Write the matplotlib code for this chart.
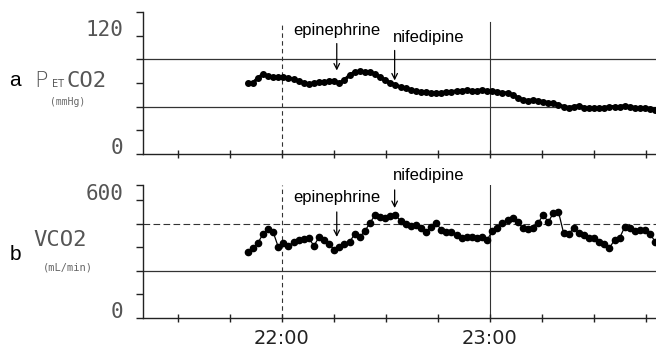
import numpy as np
import matplotlib
matplotlib.use("Agg")
import matplotlib.pyplot as plt

# ---- data (time in minutes after 21:00) ----
t_start = 50.2      # first sample, ~21:50
t_step = 1.47       # sampling interval, minutes

petco2 = [72, 72, 77, 81, 79, 78, 78, 78, 77, 76,
          74, 72, 71, 72, 73, 73, 74, 74, 72, 75,
          80, 83, 84, 83, 83, 81, 78, 75, 72, 70,
          68, 67, 65, 64, 63, 63, 62, 62, 62, 63,
          63, 64, 64, 65, 64, 64, 65, 64, 64, 63,
          62, 62, 60, 57, 55, 54, 55, 54, 53, 52,
          52, 50, 48, 47, 48, 49, 47, 47, 47, 47,
          47, 48, 48, 48, 49, 48, 47, 47, 47, 46,
          45]

vco2 = [336, 356, 381, 427, 453, 437, 361, 381, 366, 386,
        397, 402, 407, 366, 412, 397, 376, 346, 361, 376,
        386, 427, 412, 442, 483, 524, 514, 509, 519, 524,
        493, 478, 468, 473, 458, 437, 463, 483, 447, 437,
        437, 422, 407, 412, 412, 407, 412, 397, 442, 458,
        483, 498, 509, 488, 458, 453, 458, 483, 524, 488,
        534, 539, 432, 427, 458, 432, 422, 407, 407, 386,
        376, 356, 397, 407, 463, 458, 442, 447, 447, 427,
        386]

t_pet = t_start + t_step * np.arange(len(petco2))
t_vco = t_start + t_step * np.arange(len(vco2))

xtick_pos = [60, 120]
xtick_lab = ["22:00", "23:00"]

W, H = 656, 353
fig = plt.figure(figsize=(W / 100, H / 100), dpi=100)
fig.patch.set_facecolor("white")

def fx(px):
    return px / W

def fy(py):
    return 1 - py / H

axA = fig.add_axes([fx(143), fy(154), 1 - fx(143), fy(12) - fy(154)])
axB = fig.add_axes([fx(143), fy(318), 1 - fx(143), fy(185) - fy(318)])

gridc = "#333333"
for ax in (axA, axB):
    ax.set_xlim(20, 168)
    for s in ("top", "right"):
        ax.spines[s].set_visible(False)
    for s in ("left", "bottom"):
        ax.spines[s].set_color("#222222")
        ax.spines[s].set_linewidth(1.0)
    ax.set_xticks(np.arange(30, 168, 15))
    ax.tick_params(axis="x", direction="inout", length=6, width=1, colors="#222222")
    ax.tick_params(axis="y", direction="out", length=5, width=1, colors="#222222")
    ax.set_yticklabels([])

# panel a
axA.set_ylim(0, 144)
axA.set_yticks(np.arange(0, 145, 24))
axA.set_yticklabels([])
axA.set_xticklabels([])
axA.axhline(96, color=gridc, lw=0.9, zorder=1)
axA.axhline(48, color=gridc, lw=0.9, zorder=1)
axA.axvline(60, ymax=0.93, color=gridc, lw=0.8, ls=(0, (4, 3)), zorder=1)
axA.axvline(120, ymax=0.93, color=gridc, lw=0.8, zorder=1)
axA.plot(t_pet, petco2, color="black", lw=2.4, marker="o", ms=4, zorder=3)

# panel b
axB.set_ylim(0, 676)
axB.set_yticks([0, 120, 240, 360, 480, 600, 676])
axB.set_yticklabels([])
xt = np.arange(30, 168, 15)
axB.set_xticks(xt)
axB.set_xticklabels([xtick_lab[xtick_pos.index(v)] if v in xtick_pos else "" for v in xt],
                    fontsize=14, color="#222222")
axB.tick_params(axis="x", pad=5)
axB.axhline(480, color=gridc, lw=0.8, ls=(0, (6, 3)), zorder=1)
axB.axhline(240, color=gridc, lw=0.9, zorder=1)
axB.axvline(60, color=gridc, lw=0.8, ls=(0, (4, 3)), zorder=1)
axB.axvline(120, color=gridc, lw=0.8, zorder=1)
axB.plot(t_vco, vco2, color="black", lw=0.9, marker="o", ms=4.5, zorder=3)

# y value labels (dot-matrix style)
mono = "DejaVu Sans Mono"
for ax, val, lab in [(axA, 120, "120"), (axA, 0, "0"), (axB, 600, "600"), (axB, 0, "0")]:
    ax.annotate(lab, xy=(0, val), xycoords=("axes fraction", "data"),
                xytext=(-14, 4), textcoords="offset points",
                ha="right", va="center", fontsize=15, family=mono, color="#555555")

# annotations
sans = "Liberation Sans"
axA.text(75.9, 125, "epinephrine", ha="center", va="center", fontsize=12, family=sans)
axA.annotate("", xy=(75.9, 84.7), xytext=(75.9, 112),
             arrowprops=dict(arrowstyle="->", lw=0.9, color="black", shrinkA=0, shrinkB=0))
axA.text(92.0, 118, "nifedipine", ha="left", va="center", fontsize=12, family=sans)
axA.annotate("", xy=(92.6, 74.6), xytext=(92.6, 105),
             arrowprops=dict(arrowstyle="->", lw=0.9, color="black", shrinkA=0, shrinkB=0))

axB.text(75.9, 615, "epinephrine", ha="center", va="center", fontsize=12, family=sans)
axB.annotate("", xy=(75.9, 412), xytext=(75.9, 539),
             arrowprops=dict(arrowstyle="->", lw=0.9, color="black", shrinkA=0, shrinkB=0))
axB.text(92.0, 722, "nifedipine", ha="left", va="center", fontsize=12, family=sans, clip_on=False)
axB.annotate("", xy=(92.6, 559), xytext=(92.6, 651),
             arrowprops=dict(arrowstyle="->", lw=0.9, color="black", shrinkA=0, shrinkB=0),
             annotation_clip=False)

# left labels
fig.text(fx(15), fy(80), "a", ha="center", va="center", fontsize=15, family=sans)
fig.text(fx(15), fy(255), "b", ha="center", va="center", fontsize=15, family=sans)
fig.text(fx(34), fy(81), "P", ha="left", va="center", fontsize=16, family="DejaVu Sans",
         color="#555555", fontweight="light")
fig.text(fx(52), fy(84), "ET", ha="left", va="center", fontsize=7, family="DejaVu Sans", color="#555555")
fig.text(fx(66), fy(81), "CO2", ha="left", va="center", fontsize=16, family=mono, color="#555555")
fig.text(fx(50), fy(102), "(mmHg)", ha="left", va="center", fontsize=7, family=mono, color="#666666")
fig.text(fx(33), fy(240), "VCO2", ha="left", va="center", fontsize=16, family=mono, color="#555555")
fig.text(fx(43), fy(268), "(mL/min)", ha="left", va="center", fontsize=7.5, family=mono, color="#666666")

fig.savefig("out.png", dpi=100, facecolor="white")
